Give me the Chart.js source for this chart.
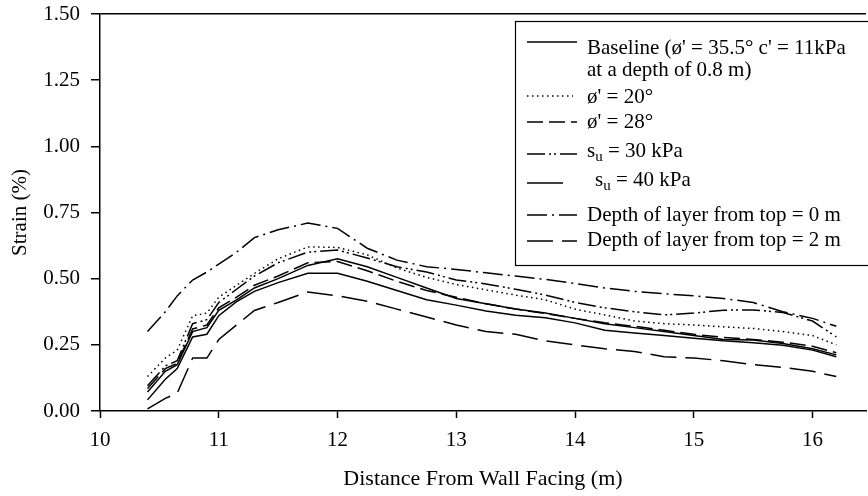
<!DOCTYPE html>
<html>
<head>
<meta charset="utf-8">
<script src="https://cdn.jsdelivr.net/npm/chart.js@4.4.1/dist/chart.umd.min.js"></script>
<style>
  html, body { margin: 0; padding: 0; background: #fff; }
  #wrap { width: 868px; height: 496px; }
</style>
</head>
<body>
<div id="wrap"><canvas id="chart" width="868" height="496"></canvas></div>
<script>
const FONT = "'Liberation Serif', 'Times New Roman', serif";
const INK = "#000";

// distance from wall facing (m)
const distance = [10.4, 10.55, 10.65, 10.78, 10.9, 11.0, 11.15, 11.3, 11.5, 11.75, 12.0, 12.25, 12.5, 12.75,
  13.0, 13.25, 13.5, 13.75, 14.0, 14.25, 14.5, 14.75, 15.0, 15.25, 15.5, 15.75, 16.0, 16.2];

// strain (%)
const baseline = [0.042, 0.12, 0.16, 0.28, 0.29, 0.36, 0.413, 0.452, 0.485, 0.52, 0.52, 0.49, 0.455, 0.42,
  0.40, 0.378, 0.362, 0.352, 0.333, 0.305, 0.295, 0.285, 0.275, 0.265, 0.258, 0.248, 0.23, 0.205];
const phi20 = [0.13, 0.20, 0.23, 0.36, 0.37, 0.43, 0.475, 0.52, 0.575, 0.62, 0.618, 0.59, 0.54, 0.505,
  0.478, 0.458, 0.438, 0.42, 0.385, 0.363, 0.34, 0.33, 0.325, 0.318, 0.312, 0.30, 0.285, 0.25];
const phi28 = [0.085, 0.16, 0.18, 0.31, 0.325, 0.39, 0.43, 0.475, 0.51, 0.56, 0.565, 0.53, 0.49, 0.455,
  0.43, 0.405, 0.385, 0.368, 0.35, 0.333, 0.32, 0.305, 0.29, 0.278, 0.27, 0.26, 0.245, 0.22];
const su30 = [0.095, 0.17, 0.19, 0.33, 0.345, 0.41, 0.46, 0.51, 0.56, 0.60, 0.608, 0.578, 0.545, 0.525,
  0.495, 0.48, 0.46, 0.438, 0.41, 0.39, 0.375, 0.363, 0.37, 0.381, 0.382, 0.372, 0.34, 0.28];
const su40 = [0.072, 0.15, 0.175, 0.30, 0.315, 0.38, 0.42, 0.465, 0.50, 0.55, 0.575, 0.545, 0.505, 0.465,
  0.425, 0.405, 0.385, 0.37, 0.35, 0.33, 0.315, 0.30, 0.285, 0.27, 0.268, 0.255, 0.235, 0.212];
const depth0 = [0.30, 0.375, 0.435, 0.495, 0.525, 0.555, 0.60, 0.655, 0.685, 0.71, 0.69, 0.615, 0.57, 0.545,
  0.535, 0.522, 0.51, 0.497, 0.482, 0.465, 0.452, 0.443, 0.435, 0.425, 0.41, 0.375, 0.35, 0.32];
const depth2 = [0.008, 0.048, 0.067, 0.20, 0.20, 0.27, 0.325, 0.38, 0.41, 0.45, 0.435, 0.415, 0.385, 0.355,
  0.325, 0.30, 0.29, 0.265, 0.25, 0.235, 0.225, 0.205, 0.20, 0.19, 0.175, 0.165, 0.15, 0.13];

const seriesNames = [
  ["Baseline (ø' = 35.5° c' = 11kPa", "at a depth of 0.8 m)"],
  ["ø' = 20°"],
  ["ø' = 28°"],
  ["s_u = 30 kPa"],
  ["s_u = 40 kPa"],
  ["Depth of layer from top = 0 m"],
  ["Depth of layer from top = 2 m"],
];
const seriesValues = [baseline, phi20, phi28, su30, su40, depth0, depth2];
const seriesDash = [[], [1.5, 3.5], [16, 6], [18, 4, 2, 3, 2, 4], [], [20, 5, 2, 5], [26, 9]];

const yTicks = [0, 0.25, 0.5, 0.75, 1.0, 1.25, 1.5];
const xTicks = [10, 11, 12, 13, 14, 15, 16];

const datasets = seriesValues.map((vals, i) => ({
  label: seriesNames[i].join(" "),
  data: vals.map((v, j) => ({ x: distance[j], y: v })),
  borderColor: INK,
  borderWidth: 1.5,
  borderDash: seriesDash[i],
  pointRadius: 0,
  fill: false,
  tension: 0,
}));

// legend rows: sample line y, text y, sample length, text indent
const rows = [
  { ly: 42, ty: 48, len: 50, tx: 0 },
  { ly: 96, ty: 97, len: 46, tx: 0 },
  { ly: 122, ty: 122, len: 50, tx: 0 },
  { ly: 154, ty: 151, len: 50, tx: 0 },
  { ly: 183, ty: 180, len: 36, tx: 8 },
  { ly: 215, ty: 215, len: 50, tx: 0 },
  { ly: 241, ty: 240, len: 50, tx: 0 },
];

function drawLabel(ctx, text, x, y) {
  const parts = text.split("_");
  if (parts.length === 1) {
    ctx.fillText(text, x, y);
    return;
  }
  ctx.fillText(parts[0], x, y);
  x += ctx.measureText(parts[0]).width;
  const sub = parts[1].charAt(0);
  const rest = parts[1].slice(1);
  const big = ctx.font;
  ctx.font = "15px " + FONT;
  ctx.fillText(sub, x, y + 6);
  x += ctx.measureText(sub).width;
  ctx.font = big;
  ctx.fillText(rest, x, y);
}

const boxLegend = {
  id: "boxLegend",
  afterDatasetsDraw(chart) {
    const ctx = chart.ctx;
    const area = chart.chartArea;
    const left = area.right - 351;
    const top = area.top + 7;
    ctx.save();
    ctx.fillStyle = "#fff";
    ctx.fillRect(left, top, area.right - left + 4, 245);
    ctx.strokeStyle = INK;
    ctx.lineWidth = 1.2;
    ctx.strokeRect(left + 0.5, top + 0.5, area.right - left + 4, 244);

    ctx.fillStyle = INK;
    ctx.font = "21px " + FONT;
    ctx.textBaseline = "middle";
    rows.forEach((r, i) => {
      const ds = chart.data.datasets[i];
      ctx.beginPath();
      ctx.setLineDash(ds.borderDash);
      ctx.lineWidth = 1.5;
      ctx.moveTo(left + 12, r.ly);
      ctx.lineTo(left + 12 + r.len, r.ly);
      ctx.stroke();
      ctx.setLineDash([]);
      seriesNames[i].forEach((line, k) => {
        drawLabel(ctx, line, left + 72 + r.tx, r.ty + k * 22);
      });
    });
    ctx.restore();
  },
};

const noEdgePadding = (s) => {
  s.paddingTop = 0;
  s.paddingBottom = 0;
  s.paddingLeft = 0;
  s.paddingRight = 0;
};

new Chart(document.getElementById("chart"), {
  type: "line",
  data: { datasets },
  plugins: [boxLegend],
  options: {
    responsive: false,
    animation: false,
    events: [],
    layout: { padding: { top: 14, right: 2, left: 0, bottom: 0 } },
    plugins: { legend: { display: false }, tooltip: { enabled: false } },
    scales: {
      x: {
        type: "linear",
        min: 10,
        max: 16.45,
        afterFit: (s) => { s.height = 85; noEdgePadding(s); },
        afterBuildTicks: (s) => { s.ticks = xTicks.map((v) => ({ value: v })); },
        border: { color: INK, width: 1.5 },
        grid: { drawOnChartArea: false, tickLength: 7, tickColor: INK, tickWidth: 1.5 },
        ticks: { color: INK, font: { family: FONT, size: 21 }, padding: 10, maxRotation: 0, autoSkip: false },
        title: {
          display: true,
          text: "Distance From Wall Facing (m)",
          color: INK,
          font: { family: FONT, size: 22 },
          padding: { top: 0, bottom: 4 },
        },
      },
      y: {
        min: 0,
        max: 1.5,
        afterFit: (s) => { s.width = 100; noEdgePadding(s); },
        afterBuildTicks: (s) => { s.ticks = yTicks.map((v) => ({ value: v })); },
        border: { color: INK, width: 1.5 },
        grid: {
          color: (c) => (c.tick && c.tick.value === 1.5 ? INK : "rgba(0,0,0,0)"),
          lineWidth: 1.5,
          tickLength: 9,
          tickColor: INK,
          tickWidth: 1.5,
        },
        ticks: {
          color: INK,
          font: { family: FONT, size: 21 },
          padding: 11,
          callback: (v) => Number(v).toFixed(2),
        },
        title: {
          display: true,
          text: "Strain (%)",
          color: INK,
          font: { family: FONT, size: 21 },
          padding: { top: 8, bottom: 0 },
        },
      },
    },
  },
});
</script>
</body>
</html>
